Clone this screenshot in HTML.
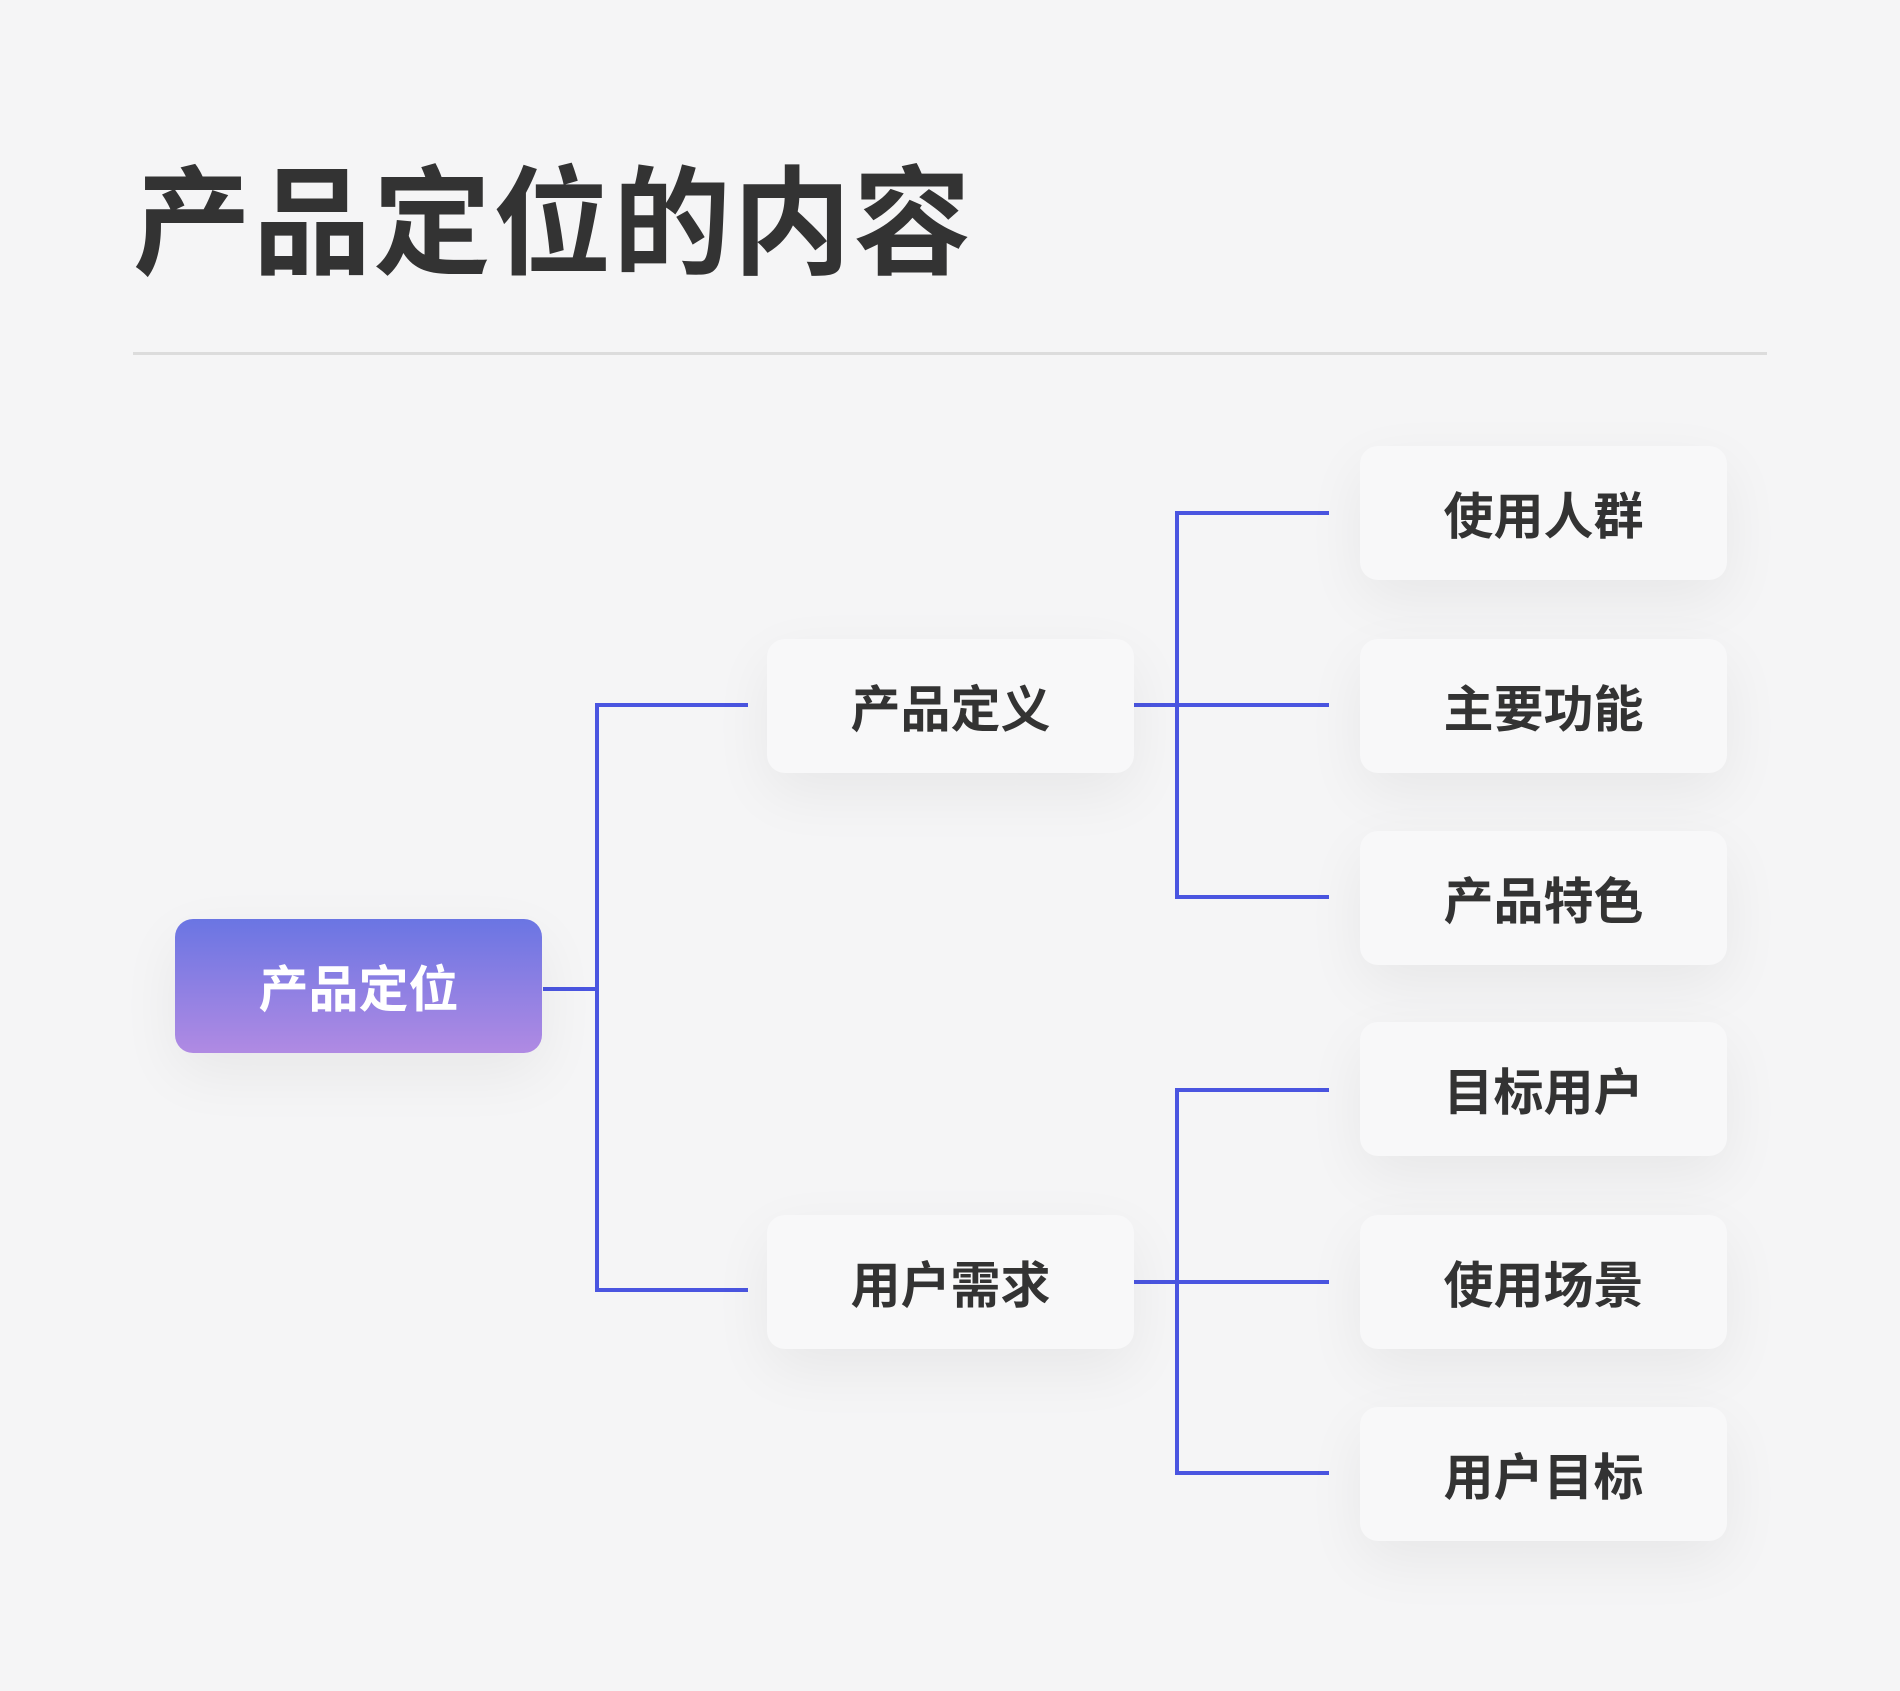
<!DOCTYPE html>
<html><head><meta charset="utf-8"><style>
body{margin:0;width:1900px;height:1691px;background:#f5f5f6;position:relative;overflow:hidden;font-family:"Liberation Sans","Noto Sans CJK SC",sans-serif;}
.t{position:absolute;left:133px;top:150px;font-size:118px;font-weight:700;color:#333;letter-spacing:2px;line-height:150px;}
.hr{position:absolute;left:133px;top:352px;width:1634px;height:3px;background:#dcdcdc;}
.b{position:absolute;width:367px;height:134px;border-radius:18px;background:#f8f8f9;box-shadow:0 20px 60px rgba(0,0,0,0.06);display:flex;align-items:center;justify-content:center;font-size:50px;font-weight:700;color:#333;}
.root{background:linear-gradient(#6a75e3,#b08ae3);color:#fff;}
.l{position:absolute;background:#4a55e0;}
</style></head><body>
<div class="t">产品定位的内容</div>
<div class="hr"></div>
<div class="l" style="left:543px;top:987px;width:56px;height:4px"></div>
<div class="l" style="left:595px;top:703px;width:4px;height:589px"></div>
<div class="l" style="left:595px;top:703px;width:153px;height:4px"></div>
<div class="l" style="left:595px;top:1288px;width:153px;height:4px"></div>
<div class="l" style="left:1134px;top:703px;width:195px;height:4px"></div>
<div class="l" style="left:1175px;top:511px;width:4px;height:388px"></div>
<div class="l" style="left:1175px;top:511px;width:154px;height:4px"></div>
<div class="l" style="left:1175px;top:895px;width:154px;height:4px"></div>
<div class="l" style="left:1134px;top:1280px;width:195px;height:4px"></div>
<div class="l" style="left:1175px;top:1088px;width:4px;height:387px"></div>
<div class="l" style="left:1175px;top:1088px;width:154px;height:4px"></div>
<div class="l" style="left:1175px;top:1471px;width:154px;height:4px"></div>
<div class="b root" style="left:175px;top:919px;">产品定位</div>
<div class="b" style="left:767px;top:639px;">产品定义</div>
<div class="b" style="left:767px;top:1215px;">用户需求</div>
<div class="b" style="left:1360px;top:446px;">使用人群</div>
<div class="b" style="left:1360px;top:639px;">主要功能</div>
<div class="b" style="left:1360px;top:831px;">产品特色</div>
<div class="b" style="left:1360px;top:1022px;">目标用户</div>
<div class="b" style="left:1360px;top:1215px;">使用场景</div>
<div class="b" style="left:1360px;top:1407px;">用户目标</div>
</body></html>
